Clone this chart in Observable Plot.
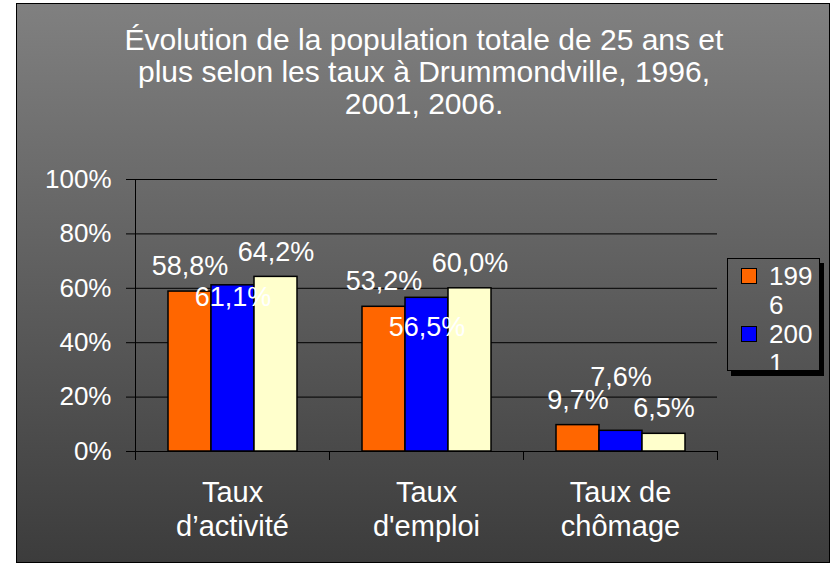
<!DOCTYPE html>
<html>
<head>
<meta charset="utf-8">
<script src="https://cdn.jsdelivr.net/npm/d3@7"></script>
<script src="https://cdn.jsdelivr.net/npm/@observablehq/plot@0.6"></script>
<style>
  body { margin: 0; background: #fff; }
  #wrap { position: relative; width: 830px; height: 565px; overflow: hidden; font-family: "Liberation Sans", Arial, sans-serif; }
  #frame { position: absolute; left: 16px; top: 3px; width: 812px; height: 558px; border: 1.5px solid #000; background: linear-gradient(#808080, #3c3c3c); }
  #title { position: absolute; left: 0; top: 24px; width: 848px; text-align: center; color: #fff; font-size: 30px; line-height: 32px; }
  #chart { position: absolute; left: 0; top: 0; }
  #legend { position: absolute; left: 727px; top: 258px; width: 93px; height: 113px; border: 1px solid #000; box-shadow: 4px 5px 0 #000; overflow: hidden; box-sizing: border-box; padding: 3px 0 0 13px; }
  .item { display: flex; align-items: flex-start; }
  .sw { width: 14px; height: 14px; border: 1px solid #000; margin-top: 6px; flex: none; }
  .lab { margin-left: 12px; width: 50px; color: #fff; font-size: 26px; line-height: 29px; word-break: break-all; }
</style>
</head>
<body>
<div id="wrap">
  <div id="frame"></div>
  <div id="title"></div>
  <div id="chart"></div>
  <div id="legend"></div>
</div>
<script>
const titleLines = ["Évolution de la population totale de 25 ans et", "plus selon les taux à Drummondville, 1996,", "2001, 2006."];
const categories = ["Taux\nd’activité", "Taux\nd'emploi", "Taux de\nchômage"];
const years = ["1996", "2001", "2006"];
const colors = ["#FF6600", "#0000FF", "#FFFFCC"];
const v1996 = [58.8, 53.2, 9.7];
const v2001 = [61.1, 56.5, 7.6];
const v2006 = [64.2, 60.0, 6.5];
const yTicks = [0, 20, 40, 60, 80, 100];

const series = {"1996": v1996, "2001": v2001, "2006": v2006};
const data = categories.flatMap((c, i) => years.map(y => ({category: c, year: y, value: series[y][i]})));
const fmt = v => v.toFixed(1).replace(".", ",") + "%";

// label nudges (as in the original, the 2001 labels were moved by hand)
const blueDy = [12, 30, -53];
const labelDy = d => d.year === "2001" ? blueDy[categories.indexOf(d.category)] : -25;

document.getElementById("title").innerHTML = titleLines.join("<br>");

const legend = document.getElementById("legend");
years.forEach((y, i) => {
  const it = document.createElement("div");
  it.className = "item";
  it.innerHTML = `<div class="sw" style="background:${colors[i]}"></div><div class="lab">${y}</div>`;
  legend.appendChild(it);
});

const font = "Liberation Sans, Arial, sans-serif";
const chart = Plot.plot({
  width: 830,
  height: 565,
  marginLeft: 134,
  marginRight: 112,
  marginTop: 179,
  marginBottom: 114,
  style: {background: "transparent", fontFamily: font, color: "white", overflow: "visible"},
  fx: {domain: categories, padding: 0, label: null},
  x: {domain: years, paddingInner: 0, paddingOuter: 0.729, axis: null},
  y: {domain: [0, 100], label: null},
  color: {domain: years, range: colors},
  marks: [
    Plot.gridY(yTicks.slice(1), {stroke: "black", strokeOpacity: 1, strokeWidth: 1}),
    Plot.barY(data, {fx: "category", x: "year", y: "value", fill: "year", stroke: "black", strokeWidth: 1.5}),
    Plot.ruleY([0], {stroke: "black", strokeWidth: 1}),
    Plot.frame({anchor: "left", facetAnchor: "left", stroke: "black", insetBottom: -8}),
    Plot.frame({anchor: "left", stroke: "black", insetTop: 272, insetBottom: -8}),
    Plot.frame({anchor: "right", stroke: "black", insetTop: 272, insetBottom: -8}),
    Plot.axisY({ticks: yTicks, tickFormat: d => d + "%", tickSize: 9, tickPadding: 15, fontSize: 26, stroke: "black", strokeOpacity: 1, fill: "white", label: null}),
    Plot.axisFx({anchor: "bottom", tickSize: 0, tickPadding: 27, fontSize: 29, lineHeight: 1.15, fill: "white", label: null}),
    ...data.map(d => Plot.text([d], {
      fx: "category", x: "year", y: "value",
      text: dd => fmt(dd.value),
      dy: labelDy(d), lineAnchor: "middle",
      fill: "white", fontSize: 27
    }))
  ]
});
document.getElementById("chart").appendChild(chart);
</script>
</body>
</html>
